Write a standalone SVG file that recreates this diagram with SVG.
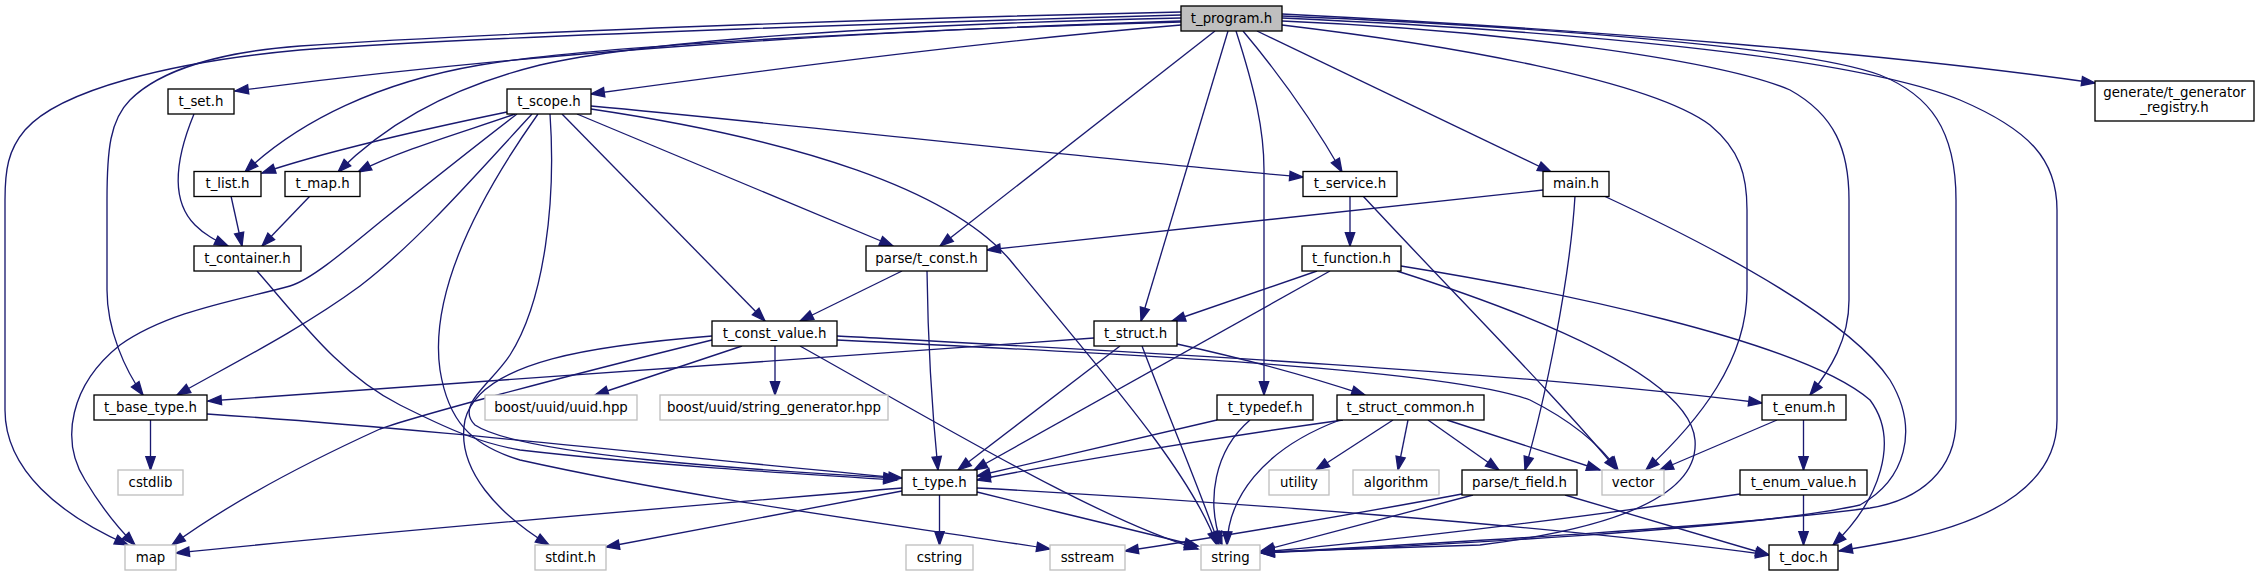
<svg xmlns="http://www.w3.org/2000/svg" width="2259" height="576" viewBox="0 0 2259 576">
<style>
.n rect{fill:#fff;stroke:#000;stroke-width:1.33}
.n.r rect{fill:#bfbfbf}
.n.s rect{stroke:#bfbfbf}
text{font-family:"DejaVu Sans","Liberation Sans",sans-serif;font-size:13.33px;text-anchor:middle;fill:#000}
#edges path{fill:none;stroke:#191970;stroke-width:1.33;marker-end:url(#a)}
</style>
<defs>
<marker id="a" markerUnits="userSpaceOnUse" markerWidth="16" markerHeight="12" refX="13.3" refY="4.67" orient="auto" overflow="visible"><path d="M0,0L13.3,4.67L0,9.33z" fill="#191970" stroke="#191970" stroke-width="1.33"/></marker>
</defs>
<rect width="2259" height="576" fill="#fff"/>
<g id="edges">
<!-- t_program.h -->
<path d="M1181,15 C1000,20 500,35 300,50 C170,62 60,90 25,130 C8,150 5,170 5,200 L5,410 C5,470 60,515 128,545"/>
<path d="M1181,12 C900,18 500,32 300,46 C220,52 160,70 130,100 C110,120 107,150 107,200 L107,290 C107,330 125,370 143,395"/>
<path d="M1181,21 C850,32 550,50 235,91"/>
<path d="M1181,22 C900,30 600,45 480,65 C380,82 300,120 245,172"/>
<path d="M1181,18 C900,24 650,40 540,65 C440,90 380,130 338,172"/>
<path d="M1181,25 C1000,40 800,65 591,94"/>
<path d="M1215,31 L940,246"/>
<path d="M1228,31 L1141,321"/>
<path d="M1236,31 C1255,90 1264,130 1264,170 L1264,395"/>
<path d="M1243,31 C1280,75 1315,125 1342,172"/>
<path d="M1257,31 L1551,172"/>
<path d="M1282,25 C1450,45 1650,80 1710,125 C1740,150 1747,175 1747,210 L1747,290 C1747,360 1700,420 1646,470"/>
<path d="M1282,21 C1500,30 1720,60 1790,90 C1835,115 1849,150 1849,200 L1849,300 C1849,340 1830,370 1810,395"/>
<path d="M1282,16 C1500,25 1800,45 1880,75 C1930,95 1956,130 1956,200 L1956,420 C1956,470 1920,500 1870,508 C1700,530 1400,545 1261,553"/>
<path d="M1282,18 C1550,30 1850,55 1960,100 C2030,130 2057,160 2057,210 L2057,420 C2057,480 2000,520 1900,540 C1870,546 1850,549 1839,551"/>
<path d="M1282,14 C1600,30 1900,55 2095,83"/>
<!-- t_scope.h -->
<path d="M507,112 C420,130 330,150 262,173"/>
<path d="M515,114 C470,130 400,150 358,172"/>
<path d="M532,114 C480,170 420,240 360,286 C300,330 230,365 177,395"/>
<path d="M517,114 C470,150 420,190 380,222 C340,255 310,280 290,286 C240,300 170,310 120,345 C70,385 60,440 85,480 C100,505 115,525 135,545"/>
<path d="M550,114 C556,200 545,300 510,355 C490,385 455,405 475,425 C520,455 750,470 897,478"/>
<path d="M538,114 C470,210 430,300 440,370 C448,420 470,445 520,460 C700,500 900,525 1050,549"/>
<path d="M562,114 L765,321"/>
<path d="M577,114 L893,246"/>
<path d="M591,106 C800,125 1100,160 1303,177"/>
<path d="M591,109 C800,140 950,190 1010,260 C1100,370 1190,470 1217,545"/>
<!-- containers -->
<path d="M194,114 C175,160 170,200 195,225 C205,235 215,240 228,246"/>
<path d="M231,196 L242,246"/>
<path d="M310,196 L262,246"/>
<path d="M257,271 C300,320 340,375 400,405 C450,430 480,443 520,450 C650,465 800,474 897,480"/>
<!-- main.h -->
<path d="M1543,190 L987,250"/>
<path d="M1575,196 C1570,280 1545,400 1525,470"/>
<path d="M1604,196 C1720,250 1850,320 1890,380 C1920,430 1905,480 1860,505 C1750,530 1400,547 1261,553"/>
<!-- t_service.h -->
<path d="M1350,196 L1350,246"/>
<path d="M1363,196 C1450,290 1560,400 1617,470"/>
<!-- t_function.h -->
<path d="M1317,271 L1172,321"/>
<path d="M1330,271 L974,470"/>
<path d="M1401,266 C1550,290 1800,340 1870,400 C1900,440 1880,500 1833,545"/>
<path d="M1397,271 C1550,320 1690,380 1695,440 C1700,500 1600,530 1480,545 L1261,552"/>
<!-- parse/t_const.h -->
<path d="M902,271 L800,321"/>
<path d="M927,271 C928,350 933,420 938,470"/>
<!-- t_const_value.h -->
<path d="M742,346 L595,395"/>
<path d="M775,346 L775,395"/>
<path d="M837,336 C1100,350 1500,370 1762,403"/>
<path d="M837,340 C1150,355 1450,370 1530,400 C1570,420 1600,445 1618,470"/>
<path d="M800,346 C950,430 1100,520 1198,549"/>
<path d="M712,340 C550,380 420,415 380,429 C290,470 220,510 172,545"/>
<path d="M712,336 C600,345 480,360 465,420 C455,470 500,515 549,545"/>
<!-- t_struct.h -->
<path d="M1094,338 L208,401"/>
<path d="M1120,346 L958,470"/>
<path d="M1142,346 C1170,420 1200,490 1219,545"/>
<path d="M1177,344 C1250,360 1320,380 1365,395"/>
<!-- t_base_type.h -->
<path d="M207,414 C450,430 700,460 902,478"/>
<path d="M150.5,420 L150.5,470"/>
<!-- t_typedef.h -->
<path d="M1217,420 L977,476"/>
<path d="M1250,420 C1215,450 1205,500 1222,545"/>
<!-- t_struct_common.h -->
<path d="M1343,420 C1200,440 1050,465 977,480"/>
<path d="M1340,420 C1260,450 1228,500 1227,545"/>
<path d="M1393,420 L1316,470"/>
<path d="M1408,420 L1398,470"/>
<path d="M1428,420 L1499,470"/>
<path d="M1447,420 L1600,470"/>
<!-- t_enum.h -->
<path d="M1777,420 L1660,470"/>
<path d="M1803.5,420 L1803.5,470"/>
<!-- t_enum_value.h -->
<path d="M1803.5,495 L1803.5,545"/>
<path d="M1740,494 C1600,515 1400,540 1261,552"/>
<!-- parse/t_field.h -->
<path d="M1565,495 L1769,555"/>
<path d="M1473,495 L1261,551"/>
<path d="M1462,494 C1350,515 1200,540 1125,551"/>
<!-- t_type.h -->
<path d="M902,488 C700,505 400,530 176,553"/>
<path d="M902,491 C800,510 700,530 606,547"/>
<path d="M939.5,495 L939.5,545"/>
<path d="M977,492 C1050,510 1130,530 1198,546"/>
<path d="M977,488 C1200,500 1550,525 1769,555"/>
</g>
<g id="t_program" class="n r"><rect x="1181" y="6" width="101" height="25"/><text x="1231.5" y="22.8">t_program.h</text></g>
<g id="t_set" class="n"><rect x="168" y="89" width="66" height="25"/><text x="201" y="105.8">t_set.h</text></g>
<g id="t_scope" class="n"><rect x="507" y="89" width="84" height="25"/><text x="549" y="105.8">t_scope.h</text></g>
<g id="t_generator_registry" class="n"><rect x="2095" y="81" width="159" height="40"/><text x="2174.5" y="97">generate/t_generator</text><text x="2174.5" y="112">_registry.h</text></g>
<g id="t_list" class="n"><rect x="194" y="171.5" width="67" height="25"/><text x="227.5" y="188.3">t_list.h</text></g>
<g id="t_map" class="n"><rect x="285" y="171.5" width="75" height="25"/><text x="322.5" y="188.3">t_map.h</text></g>
<g id="t_service" class="n"><rect x="1303" y="171.5" width="94" height="25"/><text x="1350" y="188.3">t_service.h</text></g>
<g id="main" class="n"><rect x="1543" y="171.5" width="66" height="25"/><text x="1576" y="188.3">main.h</text></g>
<g id="t_container" class="n"><rect x="194" y="246" width="107" height="25"/><text x="247.5" y="262.8">t_container.h</text></g>
<g id="parse_t_const" class="n"><rect x="866" y="246" width="121" height="25"/><text x="926.5" y="262.8">parse/t_const.h</text></g>
<g id="t_function" class="n"><rect x="1302" y="246" width="99" height="25"/><text x="1351.5" y="262.8">t_function.h</text></g>
<g id="t_const_value" class="n"><rect x="712" y="321" width="125" height="25"/><text x="774.5" y="337.8">t_const_value.h</text></g>
<g id="t_struct" class="n"><rect x="1094" y="321" width="83" height="25"/><text x="1135.5" y="337.8">t_struct.h</text></g>
<g id="t_base_type" class="n"><rect x="94" y="395" width="113" height="25"/><text x="150.5" y="411.8">t_base_type.h</text></g>
<g id="boost_uuid" class="n s"><rect x="485" y="395" width="152" height="25"/><text x="561" y="411.8">boost/uuid/uuid.hpp</text></g>
<g id="boost_string_generator" class="n s"><rect x="660" y="395" width="228" height="25"/><text x="774" y="411.8">boost/uuid/string_generator.hpp</text></g>
<g id="t_typedef" class="n"><rect x="1217" y="395" width="96" height="25"/><text x="1265" y="411.8">t_typedef.h</text></g>
<g id="t_struct_common" class="n"><rect x="1337" y="395" width="147" height="25"/><text x="1410.5" y="411.8">t_struct_common.h</text></g>
<g id="t_enum" class="n"><rect x="1762" y="395" width="84" height="25"/><text x="1804" y="411.8">t_enum.h</text></g>
<g id="cstdlib" class="n s"><rect x="118" y="470" width="65" height="25"/><text x="150.5" y="486.8">cstdlib</text></g>
<g id="t_type" class="n"><rect x="902" y="470" width="75" height="25"/><text x="939.5" y="486.8">t_type.h</text></g>
<g id="utility" class="n s"><rect x="1269" y="470" width="60" height="25"/><text x="1299" y="486.8">utility</text></g>
<g id="algorithm" class="n s"><rect x="1353" y="470" width="86" height="25"/><text x="1396" y="486.8">algorithm</text></g>
<g id="parse_t_field" class="n"><rect x="1462" y="470" width="115" height="25"/><text x="1519.5" y="486.8">parse/t_field.h</text></g>
<g id="vector" class="n s"><rect x="1602" y="470" width="62" height="25"/><text x="1633" y="486.8">vector</text></g>
<g id="t_enum_value" class="n"><rect x="1740" y="470" width="127" height="25"/><text x="1803.5" y="486.8">t_enum_value.h</text></g>
<g id="map" class="n s"><rect x="125" y="545" width="51" height="25"/><text x="150.5" y="561.8">map</text></g>
<g id="stdint" class="n s"><rect x="535" y="545" width="71" height="25"/><text x="570.5" y="561.8">stdint.h</text></g>
<g id="cstring" class="n s"><rect x="906" y="545" width="67" height="25"/><text x="939.5" y="561.8">cstring</text></g>
<g id="sstream" class="n s"><rect x="1050" y="545" width="75" height="25"/><text x="1087.5" y="561.8">sstream</text></g>
<g id="string" class="n s"><rect x="1201" y="545" width="59" height="25"/><text x="1230.5" y="561.8">string</text></g>
<g id="t_doc" class="n"><rect x="1769" y="545" width="69" height="25"/><text x="1803.5" y="561.8">t_doc.h</text></g>
</svg>
